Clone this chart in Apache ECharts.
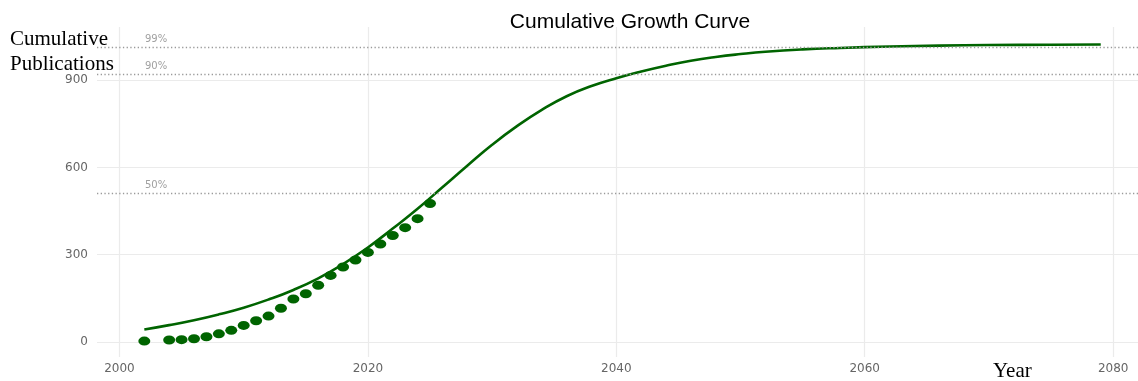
<!DOCTYPE html>
<html>
<head>
<meta charset="utf-8">
<script src="https://cdn.jsdelivr.net/npm/echarts@6/dist/echarts.min.js"></script>
<style>html,body{margin:0;padding:0;background:#fff}#c{width:1138px;height:381px}</style>
</head>
<body>
<div id="c"></div>
<script>
// Observed cumulative publications (dots)
const obsYears = [2002, 2004, 2005, 2006, 2007, 2008, 2009, 2010, 2011, 2012, 2013, 2014, 2015, 2016, 2017, 2018, 2019, 2020, 2021, 2022, 2023, 2024, 2025];
const obsValues = [3, 7, 8, 11, 18, 28, 40, 57, 73, 89, 116, 148, 166, 195, 229, 258, 282, 308, 337, 366, 393, 424, 476];
// Fitted growth curve
const curveYears = [2002, 2004, 2006, 2008, 2010, 2012, 2014, 2016, 2018, 2020, 2022, 2024, 2026, 2028, 2030, 2032, 2034, 2036, 2038, 2040, 2042, 2044, 2046, 2048, 2050, 2052, 2055, 2058, 2062, 2066, 2070, 2075, 2079];
const curveValues = [43, 58, 75, 95, 118, 146, 179, 219, 268, 325, 390, 458, 532, 606, 678, 742, 798, 845, 880, 907, 930, 950, 967, 980, 990, 998, 1006, 1011, 1016, 1019, 1021, 1022, 1023];
// Saturation reference lines
const thresholdLabels = ['99%', '90%', '50%'];
const thresholdValues = [1011.8, 919.8, 511];
// Ticks
const xTicks = [2000, 2020, 2040, 2060, 2080];
const yTicks = [0, 300, 600, 900];

const chart = echarts.init(document.getElementById('c'), null, {renderer: 'canvas'});
const green = '#006400';
const tickFont = {color: '#666666', fontSize: 12, fontFamily: 'DejaVu Sans'};

chart.setOption({
  animation: false,
  backgroundColor: '#ffffff',
  grid: {left: 97, right: 0, top: 27, bottom: 24, containLabel: false},
  xAxis: {
    type: 'value', min: 1998.19, max: 2082.0,
    axisLine: {show: false},
    axisTick: {show: false, customValues: xTicks},
    axisLabel: Object.assign({customValues: xTicks, margin: 6, formatter: v => String(v)}, tickFont),
    splitLine: {show: true, lineStyle: {color: '#ebebeb', width: 1.2}}
  },
  yAxis: {
    type: 'value', min: -51.6, max: 1083,
    axisLine: {show: false},
    axisTick: {show: false, customValues: yTicks},
    axisLabel: Object.assign({customValues: yTicks, margin: 9, formatter: v => String(v)}, tickFont),
    splitLine: {show: true, lineStyle: {color: '#ebebeb', width: 1.2}}
  },
  graphic: [
    {type: 'text', style: {x: 630, y: 22.5, text: 'Cumulative Growth Curve', textAlign: 'center', textVerticalAlign: 'middle', font: '21px "Liberation Sans", Arial, sans-serif', fill: '#000'}},
    {type: 'text', style: {x: 10, y: 39, text: 'Cumulative', textAlign: 'left', textVerticalAlign: 'middle', font: '21px "Liberation Serif", "Times New Roman", serif', fill: '#000'}},
    {type: 'text', style: {x: 10, y: 64, text: 'Publications', textAlign: 'left', textVerticalAlign: 'middle', font: '21px "Liberation Serif", "Times New Roman", serif', fill: '#000'}},
    {type: 'text', style: {x: 993, y: 371, text: 'Year', textAlign: 'left', textVerticalAlign: 'middle', font: '21px "Liberation Serif", "Times New Roman", serif', fill: '#000'}}
  ],
  series: [
    {
      type: 'line',
      data: curveYears.map((y, i) => [y, curveValues[i]]),
      showSymbol: false,
      smooth: 0.5,
      lineStyle: {color: green, width: 2.6},
      z: 3,
      markLine: {
        silent: true,
        symbol: ['none', 'none'],
        lineStyle: {color: '#9a9a9a', type: [1.3, 2.4], width: 1.3},
        label: {show: true, position: 'insideStartTop', distance: [48, 3], color: '#a0a0a0', fontSize: 10, fontFamily: 'DejaVu Sans'},
        data: thresholdValues.map((v, i) => ({yAxis: v, label: {formatter: thresholdLabels[i]}}))
      }
    },
    {
      type: 'scatter',
      data: obsYears.map((y, i) => [y, obsValues[i]]),
      symbol: 'circle',
      symbolSize: [12, 9],
      itemStyle: {color: green, opacity: 1},
      z: 4
    }
  ]
});
</script>
</body>
</html>
